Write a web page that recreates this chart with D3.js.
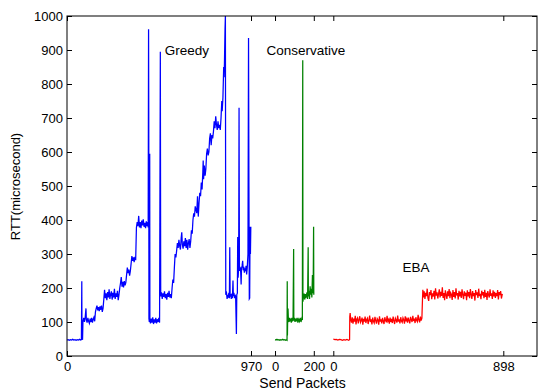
<!DOCTYPE html>
<html><head><meta charset="utf-8">
<script src="https://cdn.jsdelivr.net/npm/d3@7"></script>
<style>
body{margin:0;background:#fff;}
text{font-family:"Liberation Sans",Arial,Helvetica,sans-serif;fill:#000;}
</style></head>
<body><svg id="c" width="541" height="390"></svg>
<script>
// ---- data ----
const yTicks = [0,100,200,300,400,500,600,700,800,900,1000];
const segments = ["Greedy","Conservative","EBA"];
const segMax = [970,200,898];
const segTickLabels = [["0","970"],["0","200"],["0","898"]];
const colors = ["#0000ff","#008000","#ff0000"];

const greedy = [[0,47],[6,48],[12,46],[18,48],[24,47],[30,49],[36,47],[42,48],[48,46],[54,48],[60,47],[66,49],[72,47],[76,48],
[78,220],[79,52],[82,48],[84,100],[88,112],[92,100],[96,114],[100,140],[102,106],[106,98],[110,112],[114,102],[118,96],[122,110],[126,100],[130,112],[134,98],[138,108],[142,114],[146,102],
[150,130],[154,140],[158,148],[162,134],[166,144],[170,132],[174,146],[178,136],[182,148],[186,130],[190,140],
[194,166],[198,195],[202,170],[206,184],[210,164],[214,188],[218,172],[222,196],[226,168],[230,182],[234,190],[238,166],[242,186],[246,172],[250,198],[254,168],[258,184],[262,174],[266,192],[270,164],[274,180],
[278,200],[282,214],[286,232],[290,204],[294,218],[298,202],[302,220],[306,208],[310,216],
[314,238],[318,260],[322,244],[326,254],[330,236],[334,250],
[338,272],[342,294],[346,280],[350,290],[354,276],[358,292],[362,282],
[366,378],[370,394],[374,382],[378,412],[382,378],[386,394],[390,376],[394,398],[398,384],[402,402],[406,380],[410,392],[414,376],[418,396],[422,382],[426,394],[428,378],
[430,961],[431,720],[432,110],[434,100],[436,595],[437,104],
[440,96],[444,110],[448,98],[452,114],[456,94],[460,108],[464,98],[468,112],[472,96],[476,108],[480,100],[484,112],[488,98],
[492,895],[494,175],
[498,187],[502,168],[506,184],[510,174],[514,190],[518,170],[522,182],[526,166],[530,186],[534,174],[538,192],[542,172],[546,182],[550,170],
[554,200],[558,225],[562,215],[566,260],[570,300],[574,290],[578,310],
[582,332],[586,318],[590,342],[594,323],[598,313],[602,347],[605,364],[608,328],[612,316],[616,337],[620,323],[624,347],[628,318],[632,342],[636,313],[640,332],[644,344],[648,318],[652,337],
[656,370],[660,360],[664,400],[668,420],[672,410],[676,440],[680,430],
[684,420],[688,470],[692,410],[696,450],[700,480],[704,470],[708,510],[712,490],[716,540],[718,575],[720,520],[724,560],[728,530],[732,550],[736,595],[740,610],[744,590],[748,600],[752,640],[756,655],[760,620],[764,650],[768,640],[772,660],[776,690],[780,670],[784,705],[788,680],[792,665],[796,690],[800,670],[804,680],[808,665],[812,700],[816,750],[818,720],[822,760],[826,850],[828,820],[830,860],[833,960],[835,1000],
[837,180],[841,185],[844,168],[847,180],[850,172],[853,186],[856,170],[858,320],[860,175],[863,182],[866,168],[869,184],[872,170],[875,222],[877,176],[880,186],[883,170],[886,180],[889,175],[893,65],[895,180],[898,185],[900,350],[902,230],[905,260],[907,730],[909,250],[912,262],[915,255],[918,210],[920,258],[923,265],[926,280],[929,252],[932,262],[935,245],[938,258],[941,250],[944,265],[947,240],[950,258],[954,300],[957,935],[959,500],[961,168],[963,170],[965,380],[967,300],[969,380],[970,378]];

const conservative = [[0,48],[5,47],[10,49],[15,47],[20,48],[25,46],[30,48],[35,47],[40,49],[45,47],[50,48],[55,46],[60,48],[62,47],[63,220],[64,60],[65,100],[67,140],[69,106],[72,100],[75,112],[78,102],[81,110],[84,98],[87,112],[90,102],[93,108],[96,315],[97,104],[100,112],[103,100],[106,110],[110,102],[114,112],[118,98],[122,108],[126,102],[130,112],[134,100],[138,110],[141,106],[143,870],[144,160],[147,176],[150,184],[153,166],[156,182],[159,170],[162,180],[165,187],[168,168],[171,320],[172,175],[175,192],[178,168],[181,205],[184,180],[187,198],[190,172],[193,238],[195,185],[197,208],[199,380],[200,180]];

const eba = [[0,50],[8,48],[16,49],[24,47],[32,49],[40,48],[48,46],[56,48],[64,47],[72,49],[80,46],[86,48],[87,115],[89,126],[92,108],
[96,98],[100,114],[104,95],[108,110],[112,101],[116,118],[120,93],[124,108],[128,112],[132,96],[136,106],[140,117],[144,99],[148,104],[152,113],[156,92],[160,109],[164,101],[168,116],[172,97],[176,107],[180,111],[184,94],[188,105],[192,119],[196,100],[200,108],[204,93],[208,113],[212,102],[216,97],[220,115],[224,104],[228,95],[232,110],[236,106],[240,92],[244,117],[248,101],[252,108],[256,96],[260,112],[264,103],[268,94],[272,114],[276,105],[280,99],[284,118],[288,102],[292,107],[296,95],[300,113],[304,100],[308,109],[312,97],[316,116],[320,104],[324,94],[328,111],[332,106],[336,98],[340,119],[344,101],[348,108],[352,96],[356,114],[360,103],[364,99],[368,112],[372,106],[376,95],[380,117],[384,102],[388,109],[392,98],[396,113],[400,104],[404,96],[408,115],[412,107],[416,100],[420,118],[424,103],[428,110],[432,97],[436,114],[440,105],[444,101],[448,121],[452,106],[456,99],[460,116],[464,104],[468,111],
[471,165],[473,195],[476,172],[480,190],[484,168],[488,186],[492,176],[496,198],[500,170],[504,162],[508,188],[512,179],[516,194],[520,167],[524,184],[528,175],[532,192],[536,166],[540,199],[544,178],[548,187],[552,169],[556,183],[560,196],[564,172],[568,189],[572,177],[576,202],[580,171],[584,185],[588,164],[592,193],[596,180],[600,168],[604,190],[608,176],[612,197],[616,170],[620,186],[624,181],[628,165],[632,194],[636,174],[640,188],[644,169],[648,199],[652,178],[656,185],[660,166],[664,192],[668,175],[672,189],[676,171],[680,196],[684,180],[688,167],[692,190],[696,177],[700,186],[704,164],[708,193],[712,175],[716,188],[720,170],[724,197],[728,181],[732,168],[736,191],[740,176],[744,185],[748,163],[752,194],[756,179],[760,187],[764,171],[768,198],[772,176],[776,183],[780,167],[784,192],[788,178],[792,188],[796,170],[800,195],[804,174],[808,186],[812,165],[816,191],[820,180],[824,172],[828,196],[832,177],[836,184],[840,168],[844,193],[848,175],[852,189],[856,171],[860,185],[864,176],[868,194],[872,166],[876,188],[880,179],[884,191],[888,169],[893,183]];

const seriesData = [greedy, conservative, eba];
const annotations = [{t:"Greedy",s:0,p:515,v:900},{t:"Conservative",s:1,p:-44,v:900},{t:"EBA",s:2,p:366,v:260}];

// ---- layout ----
const L=67, T=16, R=537, B=356;
const W = R-L;
const segFrac = [[0,0.3915],[0.4426,0.5251],[0.5666,0.9283]];

const svg = d3.select("#c");
const y = d3.scaleLinear().domain([0,1000]).range([B,T]);
const xs = segFrac.map((f,i)=>d3.scaleLinear().domain([0,segMax[i]]).range([L+f[0]*W, L+f[1]*W]));

seriesData.forEach((d,i)=>{
  svg.append("path").datum(d)
    .attr("fill","none").attr("stroke",colors[i]).attr("stroke-width",1.25)
    .attr("d", d3.line().x(p=>xs[i](p[0])).y(p=>y(p[1])));
});

const fs = "13px";
xs.forEach((sc,i)=>{
  const gb = svg.append("g").attr("transform",`translate(0,${B})`)
    .call(d3.axisBottom(sc).tickValues([0,segMax[i]]).tickSizeInner(-5).tickSizeOuter(0).tickPadding(6)
      .tickFormat((d,j)=>segTickLabels[i][j]));
  gb.select(".domain").remove();
  gb.selectAll("text").style("font-size",fs).attr("font-family",null);
  const gt = svg.append("g").attr("transform",`translate(0,${T})`)
    .call(d3.axisTop(sc).tickValues([0,segMax[i]]).tickSizeInner(-5).tickSizeOuter(0).tickFormat(""));
  gt.select(".domain").remove();
});
const gl = svg.append("g").attr("transform",`translate(${L},0)`)
  .call(d3.axisLeft(y).tickValues(yTicks).tickFormat(d3.format("d")).tickSizeInner(-5).tickSizeOuter(0).tickPadding(4));
gl.select(".domain").remove();
gl.selectAll("text").style("font-size",fs).attr("font-family",null);
const gr = svg.append("g").attr("transform",`translate(${R},0)`)
  .call(d3.axisRight(y).tickValues(yTicks).tickSizeInner(-5).tickSizeOuter(0).tickFormat(""));
gr.select(".domain").remove();

svg.append("rect").attr("x",L).attr("y",T).attr("width",W).attr("height",B-T)
  .attr("fill","none").attr("stroke","#000").attr("stroke-width",1);

annotations.forEach(a=>{
  svg.append("text").attr("x",xs[a.s](a.p)).attr("y",y(a.v)).attr("dy","0.35em")
    .style("font-size","13.5px").text(a.t);
});

svg.append("text").attr("x",302.5).attr("y",388).attr("text-anchor","middle").style("font-size","14px").text("Send Packets");
svg.append("text").attr("transform","translate(20,186.5) rotate(-90)").attr("text-anchor","middle").style("font-size","13px").text("RTT(microsecond)");
</script></body></html>
